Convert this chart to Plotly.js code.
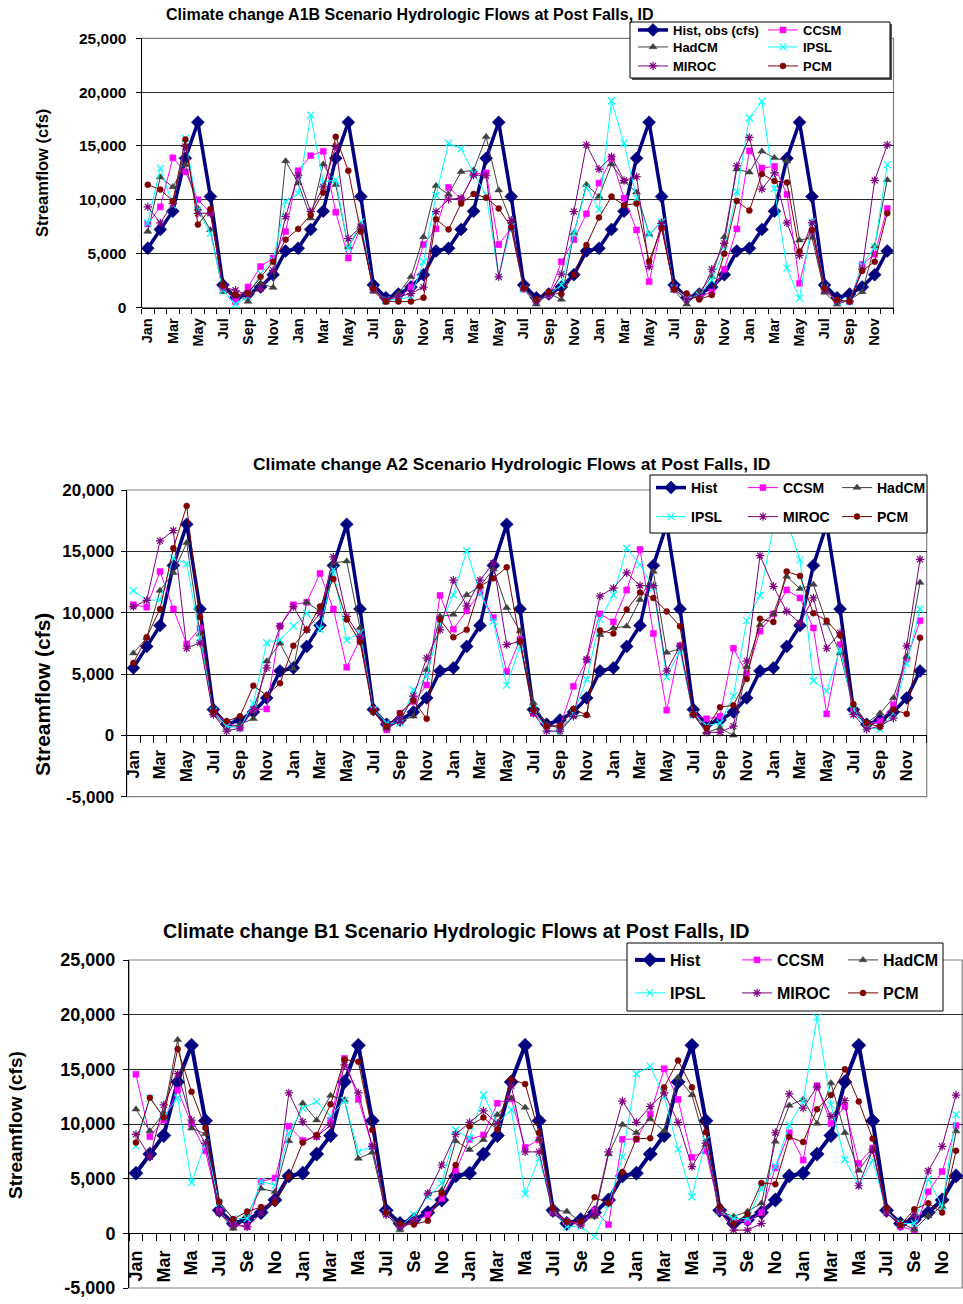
<!DOCTYPE html>
<html><head><meta charset="utf-8">
<script src="https://cdn.plot.ly/plotly-3.0.1.min.js"></script>
<style>html,body{margin:0;padding:0;background:#fff}#chart{width:963px;height:1304px}</style>
</head><body><div id="chart"></div>
<script>
// ---------------- DATA ----------------
const seriesNames = ['Hist', 'CCSM', 'HadCM', 'IPSL', 'MIROC', 'PCM'];
const seriesNamesA1B = ['Hist, obs (cfs)', 'CCSM', 'HadCM', 'IPSL', 'MIROC', 'PCM'];

const monthTicksFull = ['Jan','Mar','May','Jul','Sep','Nov','Jan','Mar','May','Jul','Sep','Nov','Jan','Mar','May','Jul','Sep','Nov','Jan','Mar','May','Jul','Sep','Nov','Jan','Mar','May','Jul','Sep','Nov'];
const monthTicksShort = ['Jan','Mar','Ma','Jul','Se','No','Jan','Mar','Ma','Jul','Se','No','Jan','Mar','Ma','Jul','Se','No','Jan','Mar','Ma','Jul','Se','No','Jan','Mar','Ma','Jul','Se','No'];

const yTickValsA1B = [0, 5000, 10000, 15000, 20000, 25000];
const yTickTextA1B = ['0', '5,000', '10,000', '15,000', '20,000', '25,000'];
const yTickValsA2 = [-5000, 0, 5000, 10000, 15000, 20000];
const yTickTextA2 = ['-5,000', '0', '5,000', '10,000', '15,000', '20,000'];
const yTickValsB1 = [-5000, 0, 5000, 10000, 15000, 20000, 25000];
const yTickTextB1 = ['-5,000', '0', '5,000', '10,000', '15,000', '20,000', '25,000'];

// ---- A1B ----
const histA1B = [5500,7250,8950,13850,17200,10300,2100,900,1250,1900,3050,5250, 5500,7250,8950,13850,17200,10300,2100,900,1250,1900,3050,5250, 5500,7250,8950,13850,17200,10300,2100,900,1250,1900,3050,5250, 5500,7250,8950,13850,17200,10300,2100,900,1250,1900,3050,5250, 5500,7250,8950,13850,17200,10300,2100,900,1250,1900,3050,5250];
const ccsmA1B = [7750,9350,13900,12600,10000,8800,1900,550,1900,3800,4600,7050, 12700,14100,14500,8850,4600,7500,1600,600,850,1900,5850,7300, 11150,10050,12400,12500,5850,7350,1700,550,1150,4250,6300,8700, 11550,13850,10150,7200,2400,7500,1700,1000,1000,1450,3550,7300, 14550,12950,13100,10500,2250,7050,1600,550,550,4000,4950,9200];
const hadA1B = [7050,12100,11200,13250,9200,7200,1450,1300,550,2250,1850,13600, 11550,8300,13300,11400,5650,7500,1500,500,1300,2850,6550,11300, 10500,12600,12750,15850,10900,7950,1700,300,1300,750,6900,11400, 10300,13300,11700,10700,6800,7950,1600,300,1450,2850,6550,12850, 12550,14500,13900,13600,6250,6500,1400,300,700,1450,5700,11850];
const ipslA1B = [7850,12950,9500,15700,9050,6900,1600,300,1000,3150,4400,9850, 10600,17850,11650,11850,5500,7950,1700,700,750,1000,4250,10400, 15250,14750,12450,10450,2850,7500,1700,550,1200,2100,6900,11150, 9100,19200,15250,10150,6800,7950,1800,850,1150,2550,5350,10750, 17600,19150,11050,3650,850,7950,1800,550,550,3950,5600,13250];
const mirocA1B = [9350,7850,9650,14950,8750,8750,1900,1600,1150,1750,3450,8450, 12300,8900,11200,14950,6400,7500,1700,700,1000,1300,1900,8900, 10050,10150,12300,12250,2850,8100,1800,550,1150,3100,8900,15100, 12850,14000,11800,12150,3800,7800,1700,750,1000,3550,5950,13150, 15800,11000,12500,7850,4850,7850,1700,600,600,3550,11800,15100];
const pcmA1B = [11400,10950,9900,15600,7700,9150,2100,1150,1350,2850,4250,6300, 7300,8600,10650,15850,12700,7050,1750,550,550,550,900,8200, 7250,9650,10550,10200,9200,7450,1800,750,1450,1250,3050,5800, 8350,10300,9500,9650,4300,7350,1700,1300,750,1150,5000,9900, 9000,12400,11750,11600,5200,7200,1800,700,550,3400,4250,8750];

// ---- A2 ----
const histA2 = [5500,7250,8950,13850,17200,10300,2100,900,1250,1900,3050,5250, 5500,7250,8950,13850,17200,10300,2100,900,1250,1900,3050,5250, 5500,7250,8950,13850,17200,10300,2100,900,1250,1900,3050,5250, 5500,7250,8950,13850,17200,10300,2100,900,1250,1900,3050,5250, 5500,7250,8950,13850,17200,10300,2100,900,1250,1900,3050,5250];
const ccsmA2 = [10650,10450,13350,10300,7450,8750,1850,1050,600,2100,2150,8900, 10650,10850,13200,10300,5550,7850,2100,450,1800,2750,4100,11400, 8650,10150,11650,9600,5200,7800,1800,750,750,4000,6150,9900, 9250,11850,15150,8300,2050,7300,1700,1350,1550,7100,5050,8500, 9900,11850,11200,8750,1750,7400,2100,900,1150,2500,6200,9350];
const hadA2 = [6700,7950,11800,13250,15700,8250,1800,600,900,1350,6050,7500, 5450,10850,10100,14050,14200,8750,2100,600,1150,1550,5350,9700, 9850,11450,12150,13550,10400,8500,2650,850,600,1550,1650,8200, 8750,8900,11050,13350,6750,7050,1700,250,600,0,5600,9000, 9900,12950,11950,12300,9150,6700,2300,1000,1800,3050,6400,12450];
const ipslA2 = [11800,11000,11050,14450,14000,7950,1950,750,600,2600,7550,7800, 8900,9950,8650,13500,7750,8350,2100,1000,1000,3700,4800,9000, 11450,15050,11600,9300,4100,7250,2100,450,200,1800,4550,9450, 11450,15250,13900,12000,4750,6900,1700,800,1000,3200,9350,11400, 17000,17500,14300,4450,3600,7000,2100,600,500,1800,5850,10300];
const mirocA2 = [10500,11000,15850,16700,7100,7550,1700,350,600,2100,5500,8900, 10500,8600,9950,14550,9700,8050,1950,600,1150,3200,6300,8600, 12650,10550,12650,14050,7400,7650,1800,350,350,1550,6200,11350, 12000,13250,12200,12200,5250,7300,1700,250,250,750,6050,14650, 12150,10100,9150,11200,7100,8350,1700,500,750,1400,7300,14350];
const pcmA2 = [5900,8000,10300,15250,18700,9650,1950,1150,1550,4050,3250,4250, 7300,8600,10500,12750,9450,7600,1950,750,1800,2850,1350,9450, 8000,8600,12150,12800,13700,7650,2100,750,800,2150,1650,8550, 8300,10250,11650,11200,10100,8900,1700,600,2300,2450,4600,9500, 9250,13350,13000,9950,9350,8150,2550,1000,700,2100,1750,7950];

// ---- B1 ----
const histB1 = [5500,7250,8950,13850,17200,10300,2100,900,1250,1900,3050,5250, 5500,7250,8950,13850,17200,10300,2100,900,1250,1900,3050,5250, 5500,7250,8950,13850,17200,10300,2100,900,1250,1900,3050,5250, 5500,7250,8950,13850,17200,10300,2100,900,1250,1900,3050,5250, 5500,7250,8950,13850,17200,10300,2100,900,1250,1900,3050,5250];
const ccsmB1 = [14550,8850,10350,13100,10000,7550,2000,750,600,4750,5050,9800, 8500,8850,10350,16000,12250,7950,1850,600,1050,1700,3200,5750, 8600,9000,11900,12300,7850,8550,2000,1050,900,2100,800,8600, 8600,10900,15050,12250,6950,7550,2000,1200,1050,1900,6000,9200, 6700,13500,10050,11600,6400,7800,2000,600,300,3800,5650,9850];
const hadB1 = [11350,9350,11000,17700,9600,9100,1850,450,1700,4100,3800,8450, 11900,10350,12600,12200,6850,7400,1850,300,1200,3650,3950,8450, 7650,8550,10850,12350,11500,8600,2150,2000,1050,1550,7250,9950, 9200,10450,9350,14250,12650,8100,2000,1550,2000,2750,8400,11700, 12250,10050,13750,9200,5750,7550,2000,1000,350,1600,2450,9350];
const ipslB1 = [8000,12350,10700,12400,4650,8250,2750,1350,1350,4750,4400,9150, 11450,12050,10700,12150,7450,7950,1850,600,1700,3350,4600,9450, 8700,12650,10050,11300,3600,6850,2150,600,600,-300,2600,7000, 14600,15300,12500,7700,3350,8550,2000,1350,1350,4100,6100,9900, 12050,19750,11750,6750,4350,6700,2000,900,900,4950,2450,10850];
const mirocB1 = [9050,7000,11750,14600,10350,8250,1850,900,600,1850,3050,12850, 10200,8850,9900,15400,12850,7950,1700,600,1200,3650,6250,9050, 10150,11200,10050,13500,7450,7450,1850,1050,750,1850,7450,12100, 10150,11600,12850,10150,6100,8250,2000,300,300,900,9200,12750, 11450,13400,10700,12150,4350,7650,1850,750,1700,5700,7950,12650];
const pcmB1 = [8300,12400,10600,16850,12950,9650,2900,1300,2000,2400,2800,5200, 8300,9000,11800,15900,15700,9450,1900,900,800,1150,3650,6250, 9800,10600,9500,14100,13650,9200,2300,1050,1050,3300,2750,5600, 8650,8700,13350,15800,13350,9250,2450,900,1750,4600,4500,8800, 8350,11350,12650,15000,12050,8650,2300,750,2200,2750,1900,7550];

// ---------------- LAYOUT / STYLE ----------------
const W = 963, H = 1304;
const FONT = 'Liberation Sans, Arial, sans-serif';
const px = v => v / W;
const py = v => 1 - v / H;

const styles = [
  {color:'#000080', symbol:'diamond', size:10, lw:3.5, open:false},
  {color:'#FF00FF', symbol:'square', size:6, lw:1, open:false},
  {color:'#404040', symbol:'triangle-up', size:7, lw:1, open:false},
  {color:'#00FFFF', symbol:'x-thin', size:7, lw:1, open:true},
  {color:'#800080', symbol:'asterisk', size:7, lw:1, open:true},
  {color:'#800000', symbol:'circle', size:6, lw:1, open:false}
];

const charts = [
  {
    data: [histA1B, ccsmA1B, hadA1B, ipslA1B, mirocA1B, pcmA1B], names: seriesNamesA1B,
    ticks: monthTicksFull, ytv: yTickValsA1B, ytt: yTickTextA1B, yr: [0, 25000],
    plot: [141.5, 38.3, 893.5, 307.5], axisY: 307.5,
    xtickSize: 14.5, ytickSize: 15.5, yStandoff: 6, xStandoff: 4, minorLen: 5,
    legendFont: 13, histSize: 10, histLw: 3.5,
    legendPos: [[633,30],[763,30],[633,47],[763,47],[633,66],[763,66]],
    legendBox: [630,22,890,78],
    title: 'Climate change A1B Scenario Hydrologic Flows at Post Falls, ID', titlePos: [410, 15], titleSize: 16,
    ytitlePos: [42, 173], ytitleSize: 16.5
  },
  {
    data: [histA2, ccsmA2, hadA2, ipslA2, mirocA2, pcmA2], names: seriesNames,
    ticks: monthTicksFull, ytv: yTickValsA2, ytt: yTickTextA2, yr: [-5000, 20000],
    plot: [126.7, 490, 926.7, 796.7], axisY: 735.4,
    xtickSize: 16.5, ytickSize: 17, yStandoff: 3, xStandoff: 7, minorLen: 7,
    legendFont: 14, histSize: 10, histLw: 3.5,
    legendPos: [[651,488],[743,488],[837,488],[651,517],[743,517],[837,517]],
    legendBox: [650,475,927,533],
    title: 'Climate change A2 Scenario Hydrologic Flows at Post Falls, ID', titlePos: [511.5, 464], titleSize: 17.4,
    ytitlePos: [42, 695], ytitleSize: 21
  },
  {
    data: [histB1, ccsmB1, hadB1, ipslB1, mirocB1, pcmB1], names: seriesNames,
    ticks: monthTicksShort, ytv: yTickValsB1, ytt: yTickTextB1, yr: [-5000, 25000],
    plot: [129, 960, 963, 1288], axisY: 1233.3,
    xtickSize: 18, ytickSize: 18, yStandoff: 4, xStandoff: 9, minorLen: 7,
    legendFont: 16, histSize: 11, histLw: 4,
    legendPos: [[630,960],[737,960],[843,960],[630,993],[737,993],[843,993]],
    legendBox: [627,943,943,1011],
    title: 'Climate change B1 Scenario Hydrologic Flows at Post Falls, ID', titlePos: [456, 931], titleSize: 19.7,
    ytitlePos: [15, 1125], ytitleSize: 19
  }
];

const xIdx = histA1B.map((_, i) => i);
const tickIdx = monthTicksFull.map((_, i) => i * 2);

const traces = [];
const layout = {
  width: W, height: H, autosize: false,
  margin: {l: 0, r: 0, t: 0, b: 0, pad: 0},
  paper_bgcolor: '#fff', plot_bgcolor: 'rgba(0,0,0,0)',
  showlegend: true, hovermode: false,
  font: {family: FONT, color: '#000'},
  shapes: [], annotations: []
};

charts.forEach((c, ci) => {
  const n = ci + 1;
  const xa = n === 1 ? 'x' : 'x' + n;
  const ya = n === 1 ? 'y' : 'y' + n;
  const xk = n === 1 ? 'xaxis' : 'xaxis' + n;
  const yk = n === 1 ? 'yaxis' : 'yaxis' + n;
  const [l, t, r, b] = c.plot;

  layout[xk] = {
    domain: [px(l), Math.min(1, px(r))], range: [-0.5, 59.5],
    anchor: 'free', position: py(c.axisY),
    tickmode: 'array', tickvals: tickIdx, ticktext: c.ticks, tickangle: -90,
    ticks: '', ticklabelstandoff: c.xStandoff,
    tickfont: {family: FONT, size: c.xtickSize, weight: 'bold', color: '#000'},
    showline: true, linecolor: '#000', linewidth: 1,
    showgrid: false, zeroline: false, fixedrange: true,
    minor: {ticks: 'outside', ticklen: c.minorLen, tickcolor: '#000', tickwidth: 1, tick0: -0.5, dtick: 1, showgrid: false}
  };
  layout[yk] = {
    domain: [py(b), py(t)], range: c.yr, anchor: xa,
    tickmode: 'array', tickvals: c.ytv, ticktext: c.ytt,
    ticks: 'outside', ticklen: 5, tickcolor: '#000', ticklabelstandoff: c.yStandoff,
    tickfont: {family: FONT, size: c.ytickSize, weight: 'bold', color: '#000'},
    showline: true, linecolor: '#000', linewidth: 1,
    showgrid: true, gridcolor: '#2a2a2a', gridwidth: 1, zeroline: false, fixedrange: true
  };

  // plot area border
  layout.shapes.push({type: 'rect', xref: 'paper', yref: 'paper', x0: px(l), x1: Math.min(1, px(r)) - (r >= W ? 0.0008 : 0), y0: py(b), y1: py(t),
    line: {color: '#808080', width: 1.2}, fillcolor: 'rgba(0,0,0,0)', layer: 'below'});

  // legend box (opaque)
  const lb = c.legendBox;
  if (ci === 0) {
    layout.shapes.push({type: 'rect', xref: 'paper', yref: 'paper', x0: px(lb[0] + 2), x1: px(lb[2] + 2), y0: py(lb[3] + 2), y1: py(lb[1] + 2),
      line: {width: 0}, fillcolor: '#555', layer: 'above'});
  }
  layout.shapes.push({type: 'rect', xref: 'paper', yref: 'paper', x0: px(lb[0]), x1: px(lb[2]), y0: py(lb[3]), y1: py(lb[1]),
    line: {color: '#000', width: 1}, fillcolor: '#fff', layer: 'above'});

  c.data.forEach((vals, si) => {
    const s = styles[si];
    const isHist = si === 0;
    const legId = 'legend' + (ci * 6 + si + 1 === 1 ? '' : (ci * 6 + si + 1));
    const marker = {symbol: s.symbol, size: isHist ? c.histSize : s.size, color: s.color,
      line: s.open ? {color: s.color, width: 1.2} : {color: s.color, width: 0.5}};
    traces.push({
      type: 'scatter', mode: 'lines+markers', x: xIdx, y: vals,
      xaxis: xa, yaxis: ya, name: c.names[si], legend: legId,
      line: {color: s.color, width: isHist ? c.histLw : s.lw},
      marker: marker, cliponaxis: false
    });
    const lp = c.legendPos[si];
    layout[legId] = {
      x: px(lp[0]), y: py(lp[1]), xanchor: 'left', yanchor: 'middle',
      bgcolor: 'rgba(0,0,0,0)', borderwidth: 0, itemwidth: 30,
      font: {family: FONT, size: c.legendFont, weight: 'bold', color: '#000'},
      itemclick: false, itemdoubleclick: false
    };
  });

  layout.annotations.push({
    xref: 'paper', yref: 'paper', x: px(c.titlePos[0]), y: py(c.titlePos[1]),
    xanchor: 'center', yanchor: 'middle', showarrow: false, text: c.title,
    font: {family: FONT, size: c.titleSize, weight: 'bold', color: '#000'}
  });
  layout.annotations.push({
    xref: 'paper', yref: 'paper', x: px(c.ytitlePos[0]), y: py(c.ytitlePos[1]),
    xanchor: 'center', yanchor: 'middle', showarrow: false, textangle: -90, text: 'Streamflow (cfs)',
    font: {family: FONT, size: c.ytitleSize, weight: 'bold', color: '#000'}
  });
});

Plotly.newPlot('chart', traces, layout, {staticPlot: true, displayModeBar: false});
</script>
</body></html>
